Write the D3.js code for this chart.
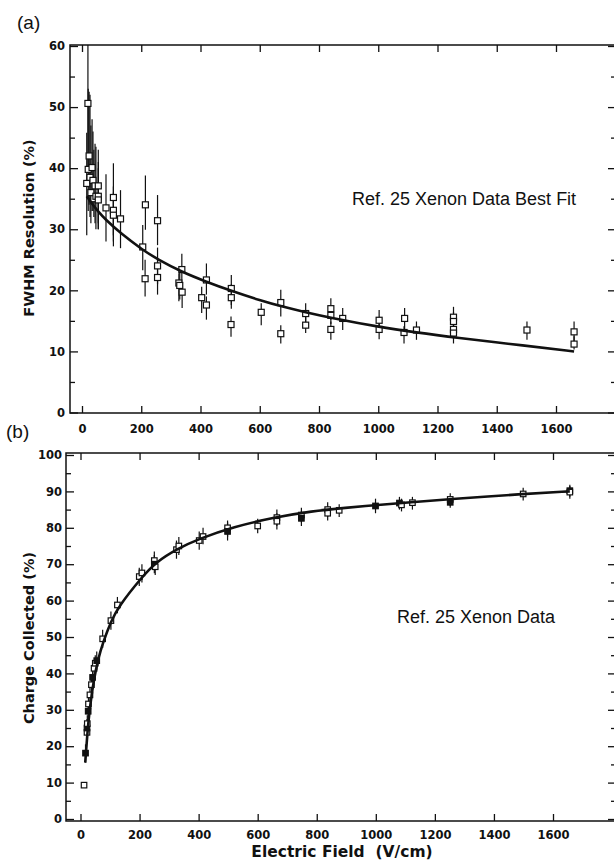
<!DOCTYPE html>
<html>
<head>
<meta charset="utf-8">
<script src="https://cdn.jsdelivr.net/npm/d3@7"></script>
<style>
body { margin: 0; background: #fff; }
svg { display: block; }
.tick text { font-family: "DejaVu Sans", sans-serif; font-weight: bold; font-size: 11.5px; fill: #111; }
.tick line { stroke: #111; stroke-width: 1.3; }
</style>
</head>
<body>
<div class="svg_container"></div>
<script>
// tick values
var fieldTicks = [0, 200, 400, 600, 800, 1000, 1200, 1400, 1600];
var resTicks = [0, 10, 20, 30, 40, 50, 60];
var resMinor = [5, 15, 25, 35, 45, 55];
var chargeTicks = [0, 10, 20, 30, 40, 50, 60, 70, 80, 90, 100];
var chargeMinor = [5, 15, 25, 35, 45, 55, 65, 75, 85, 95];

// (a) FWHM resolution: [field, value, low, high]
var resPoints = [
    [16, 37.5, 29, 45.8], [20, 50.6, 40, 62], [21, 39.8, 33, 53], [24, 42, 34, 52.5],
    [27, 38.5, 32, 52], [30, 36, 31, 47], [34, 40.1, 33, 48], [37, 38, 33, 46], [40, 35, 32, 43],
    [44, 37.1, 31, 44], [47, 35.4, 30, 43.5], [55, 37.1, 31, 43], [55, 35.4, 30, 41],
    [55, 34.8, 30, 40], [81, 33.5, 28, 39], [106, 35.2, 27.2, 40.8], [106, 33.1, 29, 37],
    [106, 32.3, 28, 36], [130, 31.7, 26.9, 36.4], [205, 27.1, 23.3, 30.7], [214, 34.0, 29.9, 38.8],
    [213, 21.9, 19, 25], [255, 31.4, 27.4, 35.6], [255, 24.0, 21, 27], [255, 22.1, 19.3, 25],
    [327, 21.2, 18.2, 22.8], [330, 20.8, 18.5, 23], [337, 23.4, 20.6, 26], [338, 19.7, 17.1, 20.9],
    [404, 18.8, 16.3, 20.6], [420, 21.7, 19.3, 24.4], [420, 17.6, 15.2, 19], [504, 20.3, 17.6, 22.5],
    [504, 18.8, 17, 21], [503, 14.4, 12.4, 15.7], [605, 16.4, 14.3, 17.9], [671, 18.0, 15.7, 20.1],
    [671, 12.9, 11.3, 14.3], [755, 16.2, 14.6, 17.9], [755, 14.3, 13, 16], [840, 17.0, 15.2, 18.7],
    [840, 15.9, 14.5, 17], [840, 13.6, 11.9, 14.9], [880, 15.4, 13.5, 17.1], [1003, 15.1, 13.5, 16.8],
    [1003, 13.6, 12, 15], [1089, 15.4, 13.5, 17.1], [1087, 13.1, 11.3, 14.1], [1129, 13.5, 11.9, 14.9],
    [1254, 15.6, 14, 17.3], [1254, 14.9, 13, 16.5], [1254, 13.6, 12, 15], [1254, 13.0, 11.3, 14],
    [1502, 13.5, 11.9, 14.9], [1661, 13.2, 11.5, 14.9], [1661, 11.2, 10.3, 12.5]
];
var resFitField = [16, 33, 53, 79, 129, 205, 255, 337, 420, 504, 605, 671, 755, 840, 1003, 1129, 1254, 1502, 1661];
var resFitValue = [35.4, 34.2, 33.0, 31.6, 29.4, 26.6, 25.1, 23.0, 21.4, 19.9, 18.3, 17.4, 16.4, 15.5, 14.0, 13.1, 12.3, 10.9, 10.0];

// (b) charge collected: [field, value, low, high, filled]
var chargePoints = [
    [12, 9.3, 9.3, 9.3, 0], [17, 18.1, 15.5, 20.5, 1], [22, 23.8, 21.5, 26, 0], [22, 25.0, 22.5, 27.5, 1],
    [23, 26.2, 24, 28.5, 0], [26, 29.6, 27.5, 32, 1], [27, 31.6, 29.5, 33.5, 0], [32, 34.1, 32, 36.5, 0],
    [37, 36.9, 34.5, 39, 0], [41, 38.9, 36.5, 41, 1], [46, 41.4, 39, 43.5, 0], [50, 42.8, 40.5, 45, 0],
    [55, 43.5, 41, 46, 1], [75, 49.5, 47, 52, 0], [103, 54.5, 52, 57, 0], [125, 58.8, 56.5, 61, 0],
    [199, 66.6, 64, 69, 0], [208, 67.6, 65, 70, 0], [250, 71.0, 68.5, 73.5, 0], [250, 70.0, 67.5, 72.5, 1],
    [253, 69.3, 67, 71.5, 0], [325, 74.0, 71.5, 76.5, 0], [333, 75.0, 72.5, 77.5, 0], [402, 76.5, 74, 79, 0],
    [415, 77.6, 75.5, 80, 0], [498, 80.0, 77.5, 82, 0], [498, 79.0, 76.5, 81.5, 1], [600, 80.5, 78.5, 82.5, 0],
    [665, 82.8, 80.5, 85, 0], [665, 81.8, 79.5, 84, 0], [748, 83.5, 81.5, 85.5, 0], [748, 82.6, 80.5, 84.5, 1],
    [837, 85.0, 83, 87, 0], [837, 84.0, 82, 86, 0], [876, 84.8, 83, 86.5, 0], [999, 86.0, 84, 88, 1],
    [1080, 86.8, 85, 88.5, 1], [1087, 86.3, 84.5, 88, 0], [1124, 86.9, 85, 88.5, 0], [1252, 87.8, 86, 89.5, 0],
    [1252, 87.0, 85.5, 88.5, 1], [1499, 89.3, 87.5, 91, 0], [1657, 90.2, 88.5, 91.8, 1], [1657, 89.8, 88, 91.5, 0]
];
var chargeFitField = [16, 22, 26, 33, 46, 60, 75, 103, 130, 204, 257, 330, 398, 520, 652, 784, 900, 995, 1100, 1258, 1495, 1657];
var chargeFitValue = [15.5, 22, 26, 31.5, 38.7, 44, 48.2, 54.3, 58.5, 66.1, 70.7, 74.3, 76.9, 80.3, 82.8, 84.6, 85.5, 86.2, 86.9, 87.9, 89.3, 90.0];

const WIDTH = 614;
const HEIGHT = 861;
const INK = "#111";

var translate = function (x, y) {
    return "translate(" + x + "," + y + ")";
};

var svg = d3.select('.svg_container').append('svg')
    .attr('width', WIDTH)
    .attr('height', HEIGHT);

var noDomain = function (a) {
    a.select('.domain').remove();
};

var drawPanel = function (p) {
    var g = svg.append('g');
    var f = p.frame;

    g.append('clipPath').attr('id', p.id + 'clip')
        .append('rect')
        .attr('x', f.left).attr('y', f.top)
        .attr('width', f.right - f.left).attr('height', f.bottom - f.top);

    // axes, ticks point inward
    g.append('g').attr('transform', translate(f.left, 0))
        .call(d3.axisLeft(p.y).tickValues(p.yTicks).tickSize(-8).tickPadding(p.yPad).tickFormat(d3.format('d')))
        .call(noDomain);
    g.append('g').attr('transform', translate(f.left, 0))
        .call(d3.axisLeft(p.y).tickValues(p.yMinor).tickSize(-5).tickFormat(''))
        .call(noDomain);
    g.append('g').attr('transform', translate(f.right, 0))
        .call(d3.axisRight(p.y).tickValues(p.yTicks).tickSize(-7).tickFormat(''))
        .call(noDomain);
    g.append('g').attr('transform', translate(f.right, 0))
        .call(d3.axisRight(p.y).tickValues(p.yMinor).tickSize(-4).tickFormat(''))
        .call(noDomain);
    g.append('g').attr('transform', translate(0, f.bottom))
        .call(d3.axisBottom(p.x).tickValues(fieldTicks).tickSize(-7).tickPadding(p.xPad).tickFormat(d3.format('d')))
        .call(noDomain);
    g.append('g').attr('transform', translate(0, f.top))
        .call(d3.axisTop(p.x).tickValues(fieldTicks).tickSize(-7).tickFormat(''))
        .call(noDomain);

    g.append('path')
        .attr('d', 'M' + f.left + ',' + f.top + 'H' + f.right + 'V' + f.bottom + 'H' + f.left + 'Z')
        .attr('fill', 'none').attr('stroke', INK).attr('stroke-width', 1.5);

    var plot = g.append('g').attr('clip-path', 'url(#' + p.id + 'clip)');

    plot.selectAll('line.err').data(p.points).enter().append('line')
        .attr('class', 'err')
        .attr('x1', function (d) { return p.x(d[0]); })
        .attr('x2', function (d) { return p.x(d[0]); })
        .attr('y1', function (d) { return p.y(d[2]); })
        .attr('y2', function (d) { return p.y(d[3]); })
        .attr('stroke', INK).attr('stroke-width', 1.2);

    plot.selectAll('rect.pt').data(p.points).enter().append('rect')
        .attr('class', 'pt')
        .attr('x', function (d) { return p.x(d[0]) - p.size / 2; })
        .attr('y', function (d) { return p.y(d[1]) - p.size / 2; })
        .attr('width', p.size).attr('height', p.size)
        .attr('fill', function (d) { return d[4] ? INK : '#fff'; })
        .attr('stroke', INK).attr('stroke-width', 1.2);

    var line = d3.line()
        .x(function (d, i) { return p.x(p.fitX[i]); })
        .y(function (d, i) { return p.y(p.fitY[i]); })
        .curve(d3.curveBasis);

    plot.append('path')
        .attr('d', line(p.fitX))
        .attr('fill', 'none').attr('stroke', INK).attr('stroke-width', 2.6);

    g.append('text')
        .attr('transform', translate(p.titleX, p.titleY) + ' rotate(-90)')
        .attr('text-anchor', 'middle')
        .style('font-family', '"DejaVu Sans", sans-serif').style('font-weight', 'bold')
        .style('font-size', '14.5px').attr('fill', INK)
        .text(p.title);

    g.append('text')
        .attr('x', p.noteX).attr('y', p.noteY)
        .style('font-family', '"Liberation Sans", Arial, sans-serif')
        .style('font-size', '18px').attr('fill', INK)
        .text(p.note);

    g.append('text')
        .attr('x', p.tagX).attr('y', p.tagY)
        .style('font-family', '"Liberation Sans", Arial, sans-serif')
        .style('font-size', '19px').attr('fill', INK)
        .text(p.tag);
};

drawPanel({
    id: 'a',
    frame: {left: 70, right: 615, top: 45, bottom: 413},
    x: d3.scaleLinear().domain([0, 1600]).range([82, 556]),
    y: d3.scaleLinear().domain([0, 60]).range([412.5, 46]),
    yTicks: resTicks, yMinor: resMinor, yPad: 5, xPad: 12,
    points: resPoints, fitX: resFitField, fitY: resFitValue, size: 6,
    title: 'FWHM Resolution (%)', titleX: 34, titleY: 228,
    note: 'Ref. 25 Xenon Data Best Fit', noteX: 352, noteY: 205,
    tag: '(a)', tagX: 17, tagY: 29
});

drawPanel({
    id: 'b',
    frame: {left: 66, right: 615, top: 453, bottom: 821},
    x: d3.scaleLinear().domain([0, 1600]).range([80.5, 553]),
    y: d3.scaleLinear().domain([0, 100]).range([819, 455]),
    yTicks: chargeTicks, yMinor: chargeMinor, yPad: 4, xPad: 10,
    points: chargePoints, fitX: chargeFitField, fitY: chargeFitValue, size: 5.5,
    title: 'Charge Collected (%)', titleX: 34, titleY: 638,
    note: 'Ref. 25 Xenon Data', noteX: 397, noteY: 623,
    tag: '(b)', tagX: 6, tagY: 438
});

svg.append('text')
    .attr('x', 342).attr('y', 857)
    .attr('text-anchor', 'middle')
    .style('font-family', '"DejaVu Sans", sans-serif').style('font-weight', 'bold')
    .style('font-size', '15.5px').attr('fill', INK)
    .text('Electric Field\u00a0\u00a0(V/cm)');
</script>
</body>
</html>
